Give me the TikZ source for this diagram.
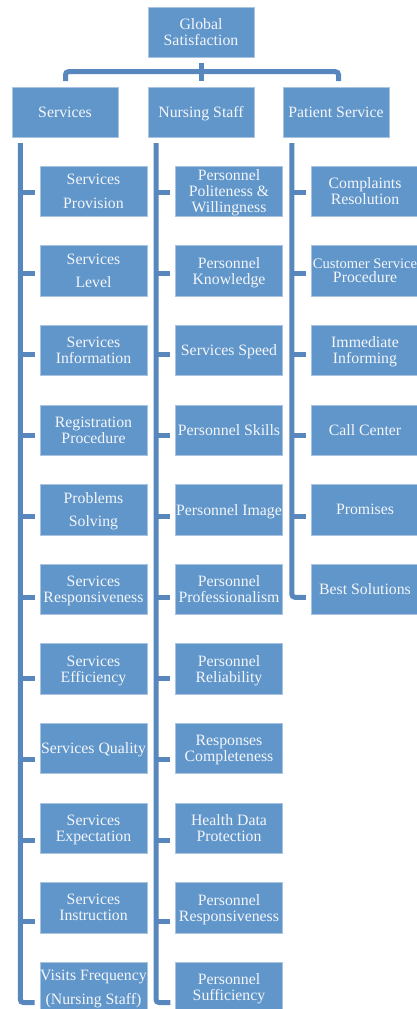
\documentclass[tikz,border=0pt]{standalone}
\usepackage{fontspec}
\setmainfont{Liberation Serif}
\definecolor{boxfill}{HTML}{6096CA}
\definecolor{boxedge}{HTML}{A8C4E2}
\definecolor{linecol}{HTML}{5787BC}
\definecolor{txt}{HTML}{F4F6FA}
\begin{document}
\begin{tikzpicture}[x=1pt,y=-1pt,
  box/.style={rectangle, fill=boxfill, draw=boxedge, line width=0.6pt,
    minimum width=106pt, minimum height=50pt, inner sep=0pt, text=txt,
    text depth=0pt, align=center, font=\fontsize{15.8}{16}\selectfont},
  kid/.style={box, minimum width=107pt, minimum height=50.5pt},
  conn/.style={draw=linecol, line width=5pt}]
\useasboundingbox (0,0) rectangle (416,1009);

% root and level 1
\node[box] (root) at (201,32) {Global\\Satisfaction};
\node[box] (svc) at (65,112) {Services};
\node[box] (nur) at (201,112) {Nursing Staff};
\node[box] (pat) at (336,112) {Patient Service};

% top bus
\coordinate (stemtop) at (201.5,63);
\coordinate (stembot) at (201.5,81);
\coordinate (busL) at (65.5,81);
\coordinate (busR) at (338.5,81);
\draw[conn, rounded corners=3pt] (busL) -- (65.5,71.7) -- (338.5,71.7) -- (busR);
\draw[conn] (stemtop) -- (stembot);

% Services children
\foreach \t [count=\i from 0] in {
  {Services\\[8pt]Provision},
  {Services\\[7pt]Level},
  {Services\\Information},
  {Registration\\Procedure},
  {Problems\\[7.5pt]Solving},
  {Services\\Responsiveness},
  {Services\\Efficiency},
  {Services Quality},
  {Services\\Expectation},
  {Services\\Instruction},
  {Visits Frequency\\[8pt](Nursing Staff)}}
  \node[kid] (s\i) at (93.5,{191.3+79.6*\i}) {\t};

% Nursing children
\foreach \t [count=\i from 0] in {
  {Personnel\\Politeness \&\\Willingness},
  {Personnel\\Knowledge},
  {Services Speed},
  {Personnel Skills},
  {Personnel Image},
  {Personnel\\Professionalism},
  {Personnel\\Reliability},
  {Responses\\Completeness},
  {Health Data\\Protection},
  {Personnel\\Responsiveness},
  {Personnel\\Sufficiency}}
  \node[kid] (n\i) at (229,{191.3+79.6*\i}) {\t};

% Patient children
\foreach \t [count=\i from 0] in {
  {Complaints\\Resolution},
  {{\fontsize{14.6}{13}\selectfont Customer Service}\\[-2pt]Procedure},
  {Immediate\\Informing},
  {Call Center},
  {Promises},
  {Best Solutions}}
  \node[kid, minimum width=108pt] (p\i) at (365,{191.3+79.6*\i}) {\t};

% connector coordinates
\foreach \i in {0,...,10}{
  \coordinate (sb\i) at (20.3,{192+81.05*\i});
  \coordinate (se\i) at (34.7,{192+81.05*\i});
  \coordinate (nb\i) at (156,{192+81.05*\i});
  \coordinate (ne\i) at (170.3,{192+81.05*\i});
}
\foreach \i in {0,...,5}{
  \coordinate (pb\i) at (291.8,{192+81.05*\i});
  \coordinate (pe\i) at (305.8,{192+81.05*\i});
}
\coordinate (stop) at (20.3,143);
\coordinate (ntop) at (156,143);
\coordinate (ptop) at (291.8,143);

% bars
\draw[conn, rounded corners=3pt] (stop) -- (sb10) -- (se10);
\draw[conn, rounded corners=3pt] (ntop) -- (nb10) -- (ne10);
\draw[conn, rounded corners=3pt] (ptop) -- (pb5) -- (pe5);
\foreach \i in {0,...,9}{
  \draw[conn] (sb\i) -- (se\i);
  \draw[conn] (nb\i) -- (ne\i);
}
\foreach \i in {0,...,4}
  \draw[conn] (pb\i) -- (pe\i);
\end{tikzpicture}
\end{document}
